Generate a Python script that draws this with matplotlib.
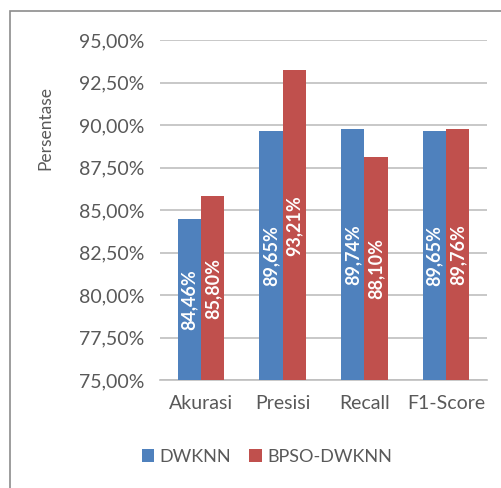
import numpy as np
import matplotlib.pyplot as plt
from matplotlib.patches import Rectangle
from matplotlib.ticker import FuncFormatter

plt.rcParams['font.family'] = ['Lato', 'DejaVu Sans']

categories = ['Akurasi', 'Presisi', 'Recall', 'F1-Score']
dwknn = [84.46, 89.65, 89.74, 89.65]
bpso_dwknn = [85.80, 93.21, 88.10, 89.76]
series_names = ['DWKNN', 'BPSO-DWKNN']

W, H = 502, 488
fig = plt.figure(figsize=(W / 100, H / 100), dpi=100)

# outer frame (left/top edges visible)
fig.patches.append(Rectangle((10 / W, -0.1), 1.2, (H - 11) / H + 0.1,
                             transform=fig.transFigure, fill=False,
                             edgecolor='#8c8c8c', linewidth=1.2))

ax = fig.add_axes([160 / W, (H - 380) / H, 327 / W, 340 / H])

text_c = '#595959'
grid_c = '#bfbfbf'
colors = ['#4f81bd', '#c0504d']
bw = 0.285
x = np.arange(len(categories))

for k, (vals, col) in enumerate(zip([dwknn, bpso_dwknn], colors)):
    xs = x + (k - 0.5) * bw
    bars = ax.bar(xs, np.array(vals) - 75, bottom=75, width=bw, color=col,
                  label=series_names[k], zorder=3)
    for xi, v in zip(xs, vals):
        ax.text(xi, (75 + v) / 2, f"{v:.2f}%".replace('.', ','),
                rotation=90, ha='center', va='center', color='white',
                fontsize=13, fontweight='bold', zorder=4)

ax.set_ylim(75, 95)
ax.set_xlim(-0.5, 3.5)
ax.set_yticks(np.arange(75, 95.01, 2.5))
ax.yaxis.set_major_formatter(FuncFormatter(lambda v, p: f"{v:.2f}%".replace('.', ',')))
ax.set_xticks(x)
ax.set_xticklabels(categories)
ax.tick_params(axis='both', length=0, colors=text_c, labelsize=14)
ax.tick_params(axis='y', pad=11)
ax.tick_params(axis='x', pad=11)
ax.grid(axis='y', color=grid_c, linewidth=1.2, zorder=0)
for s in ['top', 'right', 'left']:
    ax.spines[s].set_visible(False)
ax.spines['bottom'].set_color(grid_c)
ax.spines['bottom'].set_linewidth(1.2)

fig.text(45 / W, 1 - 128 / H, 'Persentase', rotation=90, ha='center',
         va='center', color=text_c, fontsize=12.5)

fig.legend(loc='center', bbox_to_anchor=(267 / W, 1 - 457 / H), ncol=2,
           frameon=False, fontsize=13, labelcolor=text_c, handlelength=0.7,
           handleheight=0.7, handletextpad=0.3, columnspacing=1.0)

fig.savefig('out.png', dpi=100)
